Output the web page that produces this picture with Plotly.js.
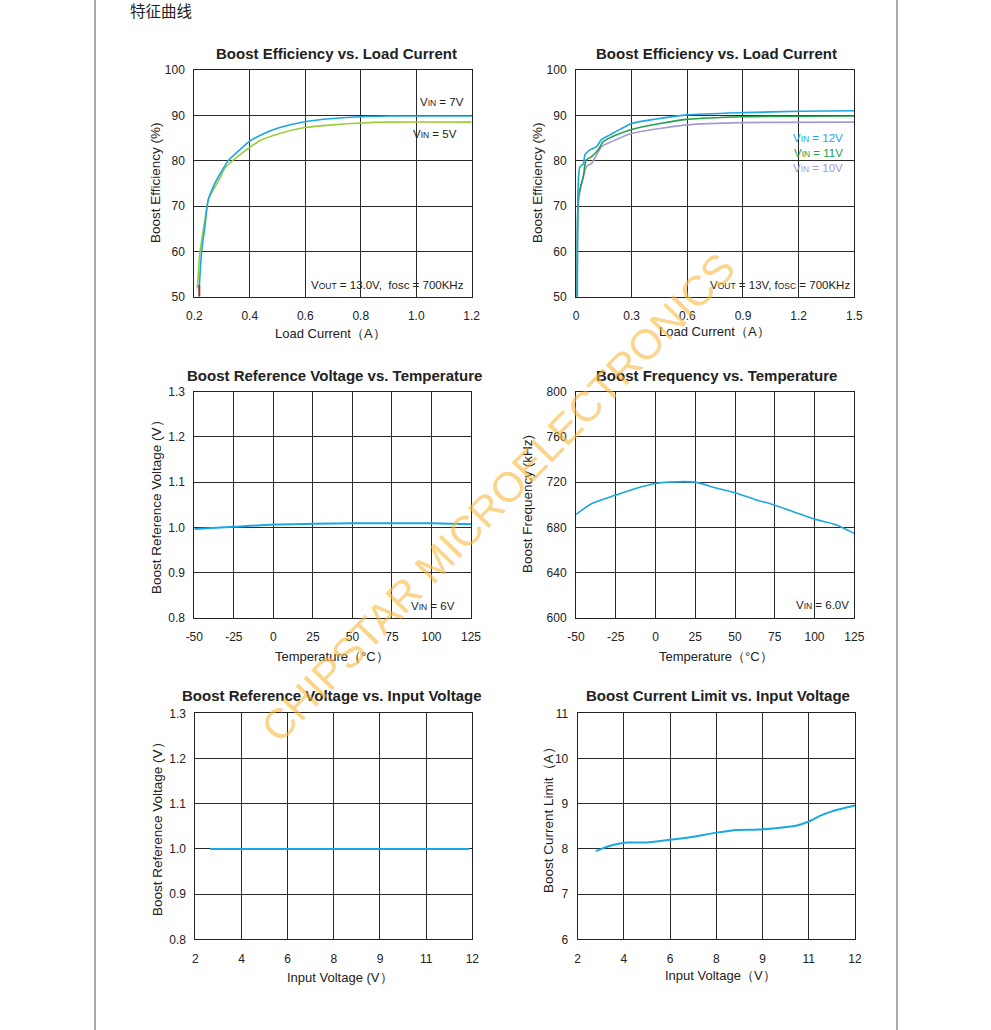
<!DOCTYPE html>
<html>
<head>
<meta charset="utf-8">
<script src="https://cdn.plot.ly/plotly-3.0.1.min.js"></script>
<style>
html,body{margin:0;padding:0;background:#fff;}
#chart{width:991px;height:1030px;}
</style>
</head>
<body>
<div id="chart"></div>
<script>
// ---------- Data ----------
// Chart 1: Boost Efficiency vs Load Current (VOUT=13V)
const c1_vin7_x = [0.218,0.226,0.238,0.25,0.274,0.298,0.322,0.364,0.40,0.448,0.508,0.598,0.699,0.798,0.903,0.999,1.2];
const c1_vin7_y = [52.2,59.6,65.4,71.3,75.0,77.6,80.0,82.4,84.3,85.9,87.3,88.6,89.3,89.7,89.85,89.85,89.85];
const c1_vin5_x = [0.211,0.22,0.238,0.25,0.268,0.292,0.31,0.34,0.388,0.436,0.508,0.598,0.699,0.798,0.903,1.2];
const c1_vin5_y = [51.8,59.6,66.9,71.3,73.5,76.1,78.3,80.1,82.4,84.4,86.0,87.3,87.9,88.3,88.5,88.5];
const c1_mark_x = [0.218,0.218];
const c1_mark_y = [50,52.6];
const c1_ticks = [0.2,0.4,0.6,0.8,1.0,1.2];
const c1_ticktext = ['0.2','0.4','0.6','0.8','1.0','1.2'];

// Chart 2: Boost Efficiency vs Load Current (VIN 10/11/12V)
const c2_vin12_x = [0.007,0.0126,0.0216,0.04,0.048,0.075,0.111,0.138,0.183,0.237,0.30,0.417,0.597,0.902,1.207,1.5];
const c2_vin12_y = [50,75.7,78.7,79.3,81.3,82.4,83.1,84.7,85.7,86.9,88.2,89.1,90.1,90.6,90.9,91.0];
const c2_vin11_x = [0.007,0.0126,0.025,0.04,0.054,0.084,0.12,0.147,0.219,0.30,0.453,0.597,0.902,1.5];
const c2_vin11_y = [50,72.1,74.3,76.5,80.1,80.9,82.4,84.2,85.7,86.9,88.2,89.1,89.7,89.85];
const c2_vin10_x = [0.004,0.0126,0.03,0.057,0.084,0.111,0.138,0.192,0.30,0.453,0.597,0.902,1.5];
const c2_vin10_y = [50,70.6,75.0,78.7,79.4,81.3,83.1,84.2,86.0,87.1,87.9,88.4,88.5];
const c2_ticks = [0,0.3,0.6,0.9,1.2,1.5];
const c2_ticktext = ['0','0.3','0.6','0.9','1.2','1.5'];

// Temperature axis ticks (charts 3 & 4)
const temp_ticks = [-50,-25,0,25,50,75,100,125];
const temp_ticktext = ['-50','-25','0','25','50','75','100','125'];

// Chart 3: Reference voltage vs temperature
const c3_temp = [-50,-25,0,25,50,75,100,125];
const c3_vref = [0.996,1.001,1.006,1.008,1.009,1.009,1.009,1.007];

// Chart 4: Frequency vs temperature
const c4_temp = [-50,-40,-25,-12.5,0,8,25,37.5,50,62.5,75,88,100.5,113,125];
const c4_freq = [691.4,701.1,708.5,714.4,718.8,720,720,715,710.6,704.7,699.6,693.2,687,682.5,674.6];

// Input-voltage axes (charts 5 & 6): equally spaced grid positions with these labels
const vin_tickpos = [0,1,2,3,4,5,6];
const vin_ticktext = ['2','4','6','8','9','11','12'];

// Chart 5: Reference voltage vs input voltage (x in grid positions)
const c5_pos = [0.32,1,2,3,4,5,5.93];
const c5_vref = [1.0,1.0,1.0,1.0,1.0,1.0,1.0];

// Chart 6: Current limit vs input voltage (x in grid positions)
const c6_pos = [0.39,0.70,1.06,1.49,2.0,2.5,3.0,3.44,3.95,4.38,4.74,4.99,5.24,5.5,5.75,6.0];
const c6_ilim = [7.95,8.07,8.14,8.14,8.20,8.27,8.36,8.42,8.43,8.47,8.52,8.60,8.73,8.83,8.90,8.96];

// ---------- Layout helpers ----------
const W = 991, H = 1030;
const px = x => x / W;
const py = y => 1 - y / H;
const FONT = 'Liberation Sans, Arial, sans-serif';
const BLUE = '#1aa8e4';
const LGREEN = '#9ccc3a';
const DGREEN = '#22a04a';
const LAV = '#a59bd0';
const TICKF = {family: FONT, size: 12, color: '#222'};

function xax(anchor, l, r, range, tickvals, ticktext) {
  return {
    anchor: anchor,
    domain: [px(l), px(r)], range: range, showline: true, mirror: true,
    linecolor: '#222', linewidth: 1, showgrid: true, gridcolor: '#2a2a2a', gridwidth: 1,
    zeroline: false, ticks: '', tickfont: TICKF, ticklabelstandoff: 8,
    tickmode: 'array', tickvals: tickvals, ticktext: ticktext, fixedrange: true
  };
}
function yax(anchor, b, t, range, dtick, fmt) {
  return {
    anchor: anchor,
    domain: [py(b), py(t)], range: range, showline: true, mirror: true,
    linecolor: '#222', linewidth: 1, showgrid: true, gridcolor: '#2a2a2a', gridwidth: 1,
    zeroline: false, ticks: '', tickmode: 'linear', tick0: range[0], dtick: dtick,
    tickformat: fmt || '', tickfont: TICKF, ticklabelstandoff: 6, fixedrange: true
  };
}

const line = (x, y, color, xa, ya, w) => ({
  x: x, y: y, xaxis: xa, yaxis: ya, type: 'scatter', mode: 'lines',
  line: {color: color, width: w || 1.6, shape: 'spline', smoothing: 0.6},
  hoverinfo: 'skip', showlegend: false
});

const traces = [
  line(c1_vin5_x, c1_vin5_y, LGREEN, 'x', 'y'),
  line(c1_vin7_x, c1_vin7_y, BLUE, 'x', 'y'),
  line(c1_mark_x, c1_mark_y, '#8b3a2a', 'x', 'y', 2),
  line(c2_vin10_x, c2_vin10_y, LAV, 'x2', 'y2'),
  line(c2_vin11_x, c2_vin11_y, DGREEN, 'x2', 'y2'),
  line(c2_vin12_x, c2_vin12_y, BLUE, 'x2', 'y2'),
  line(c3_temp, c3_vref, BLUE, 'x3', 'y3', 2),
  line(c4_temp, c4_freq, BLUE, 'x4', 'y4'),
  line(c5_pos, c5_vref, BLUE, 'x5', 'y5', 2),
  line(c6_pos, c6_ilim, BLUE, 'x6', 'y6', 2)
];

const ann = [];
function txt(x, y, text, opts) {
  ann.push(Object.assign({
    xref: 'paper', yref: 'paper', x: px(x), y: py(y), text: text, showarrow: false,
    xanchor: 'center', yanchor: 'middle',
    font: {family: FONT, size: 13, color: '#222'}
  }, opts || {}));
}
const TF = {family: FONT, size: 15, color: '#222', weight: 'bold'};
const YT = {family: FONT, size: 13.5, color: '#222'};
// Chart titles
txt(336, 53, '<b>Boost Efficiency vs. Load Current</b>', {font: TF});
txt(716, 53, '<b>Boost Efficiency vs. Load Current</b>', {font: TF});
txt(334, 375, '<b>Boost Reference Voltage vs. Temperature</b>', {font: TF});
txt(716, 375, '<b>Boost Frequency vs. Temperature</b>', {font: TF});
txt(332, 695, '<b>Boost Reference Voltage vs. Input Voltage</b>', {font: TF});
txt(718, 695, '<b>Boost Current Limit vs. Input Voltage</b>', {font: TF});
// Axis titles
txt(330, 333, 'Load Current（A）');
txt(714, 332, 'Load Current（A）');
txt(332, 656, 'Temperature（°C）');
txt(716, 656, 'Temperature（°C）');
txt(340, 977, 'Input Voltage (V）');
txt(720, 975, 'Input Voltage（V）');
txt(155, 183, 'Boost Efficiency (%)', {textangle: -90, font: YT});
txt(537, 183, 'Boost Efficiency (%)', {textangle: -90, font: YT});
txt(157, 504, 'Boost Reference Voltage (V）', {textangle: -90, font: YT});
txt(528, 504, 'Boost Frequency (kHz)', {textangle: -90, font: YT});
txt(157, 826, 'Boost Reference Voltage (V）', {textangle: -90, font: YT});
txt(548, 817, 'Boost Current Limit（A）', {textangle: -90, font: YT});
// In-plot labels
const SF = {family: FONT, size: 11.5, color: '#222'};
const sub = s => '<span style="font-size:8.5px">' + s + '</span>';
txt(466, 102, 'V' + sub('IN') + ' = 7V', {xanchor: 'right', font: SF});
txt(459, 134, 'V' + sub('IN') + ' = 5V', {xanchor: 'right', font: SF});
txt(466, 285, 'V' + sub('OUT') + ' = 13.0V,  fosc = 700KHz', {xanchor: 'right', font: SF});
txt(845, 138, 'V' + sub('IN') + ' = 12V', {xanchor: 'right', font: {family: FONT, size: 11.5, color: BLUE}});
txt(845, 153, 'V' + sub('IN') + ' = 11V', {xanchor: 'right', font: {family: FONT, size: 11.5, color: DGREEN}});
txt(845, 168, 'V' + sub('IN') + ' = 10V', {xanchor: 'right', font: {family: FONT, size: 11.5, color: LAV}});
txt(852, 285, 'V' + sub('OUT') + ' = 13V, f' + sub('OSC') + ' = 700KHz', {xanchor: 'right', font: SF});
txt(457, 606, 'V' + sub('IN') + ' = 6V', {xanchor: 'right', font: SF});
txt(851, 605, 'V' + sub('IN') + ' = 6.0V', {xanchor: 'right', font: SF});
// Page heading
txt(128, 10, '特征曲线', {xanchor: 'left', font: {family: 'Noto Sans CJK SC, sans-serif', size: 15.5, color: '#222'}});
// Watermark
txt(498, 497, 'CHIPSTAR MICROELECTRONICS', {textangle: -46,
  font: {family: FONT, size: 42, color: 'rgba(247,185,60,0.62)'}});

const layout = {
  width: W, height: H, margin: {l: 0, r: 0, t: 0, b: 0},
  paper_bgcolor: '#fff', plot_bgcolor: '#fff', showlegend: false,
  font: {family: FONT},
  xaxis: xax('y', 194.3, 471.7, [0.2, 1.2], c1_ticks, c1_ticktext),
  yaxis: yax('x', 296.7, 70, [50, 100], 10),
  xaxis2: xax('y2', 576, 854.3, [0, 1.5], c2_ticks, c2_ticktext),
  yaxis2: yax('x2', 296.7, 70, [50, 100], 10),
  xaxis3: xax('y3', 194.3, 471, [-50, 125], temp_ticks, temp_ticktext),
  yaxis3: yax('x3', 617.7, 391.7, [0.8, 1.3], 0.1, '.1f'),
  xaxis4: xax('y4', 576, 854.3, [-50, 125], temp_ticks, temp_ticktext),
  yaxis4: yax('x4', 617.7, 391.7, [600, 800], 40),
  xaxis5: xax('y5', 195.3, 472.3, [0, 6], vin_tickpos, vin_ticktext),
  yaxis5: yax('x5', 939.3, 713.3, [0.8, 1.3], 0.1, '.1f'),
  xaxis6: xax('y6', 577.7, 855, [0, 6], vin_tickpos, vin_ticktext),
  yaxis6: yax('x6', 939.3, 713.3, [6, 11], 1),
  annotations: ann,
  shapes: [
    {type: 'line', xref: 'paper', yref: 'paper', x0: px(95), x1: px(95), y0: 0, y1: 1, line: {color: '#555', width: 1}},
    {type: 'line', xref: 'paper', yref: 'paper', x0: px(897), x1: px(897), y0: 0, y1: 1, line: {color: '#555', width: 1}}
  ]
};

Plotly.newPlot('chart', traces, layout, {staticPlot: true, displayModeBar: false});
</script>
</body>
</html>
